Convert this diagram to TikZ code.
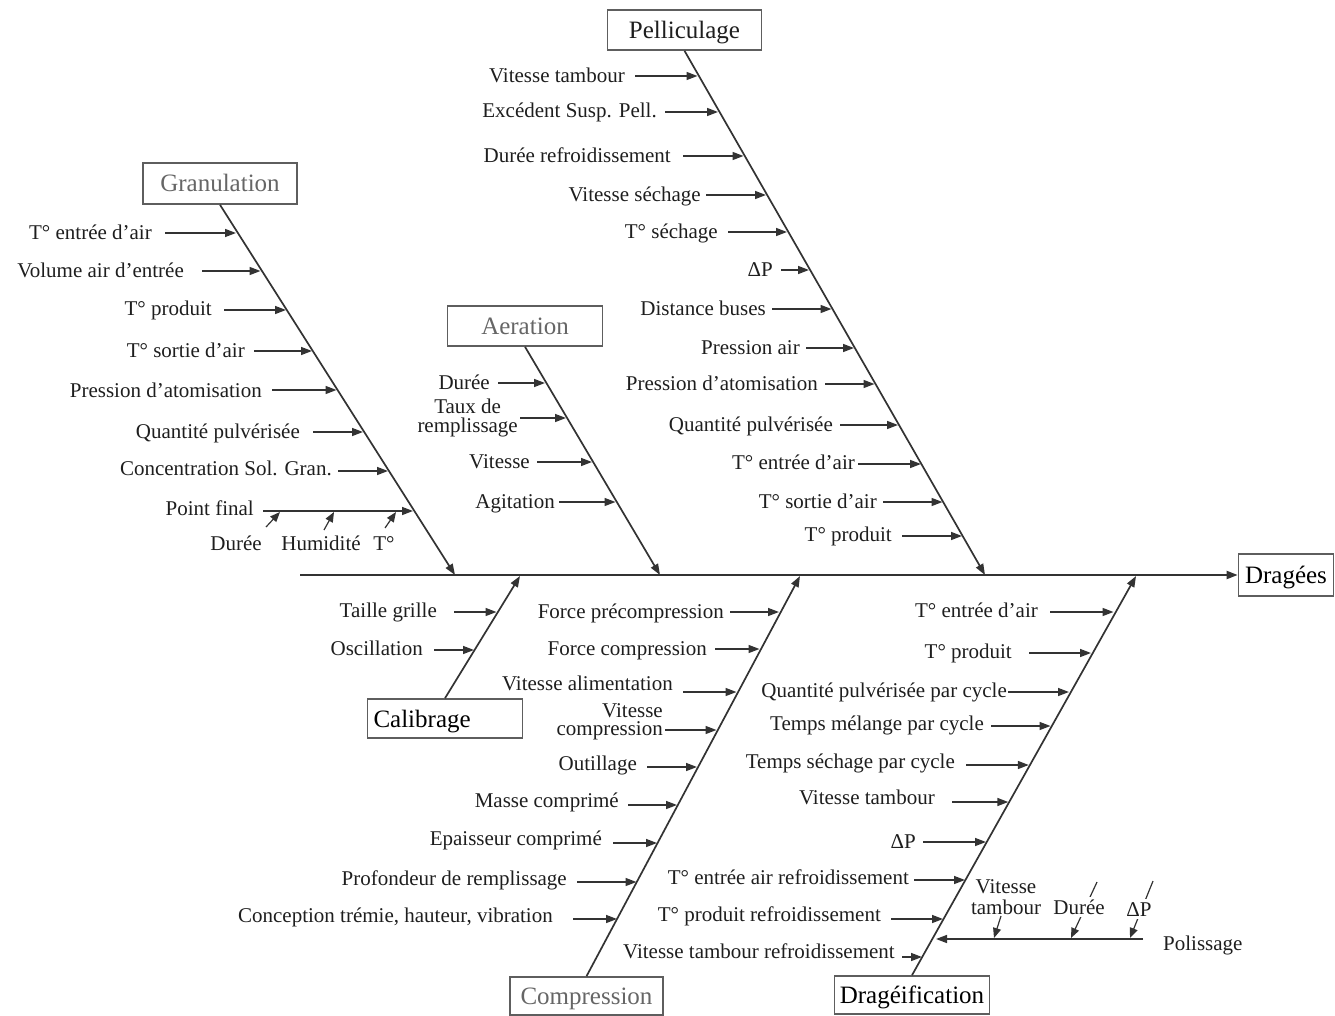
\documentclass[tikz,border=0pt]{standalone}
\usepackage{fontspec}
\setmainfont{Liberation Serif}
\usetikzlibrary{arrows.meta}

\definecolor{ink}{HTML}{1E1E1E}
\definecolor{rule}{HTML}{333333}
\definecolor{frame}{HTML}{5E5E5E}
\definecolor{softtext}{HTML}{666666}

% one cause: name, label right x, label y, arrow y, arrow start x, arrow tip x, text
\newcommand\cause[7]{%
  \node[lbl, anchor=east] (#1) at (#2,#3) {#7};
  \coordinate (#1-t) at (#6,#4);
  \draw[arr, shorten <={(#5-#2)*1pt}] (#1.east |- #1-t) -- (#1-t);
}

\begin{document}
\begin{tikzpicture}[x=1pt, y=-1pt,
  lbl/.style={font=\fontsize{21}{18}\selectfont, text=ink, inner sep=0pt,
              text height=17pt, text depth=1.5pt},
  mlbl/.style={font=\fontsize{21}{18.5}\selectfont, text=ink, inner sep=0pt},
  tip/.style={-{Triangle[length=11pt,width=8pt]}},
  arr/.style={tip, line width=1.5pt, draw=rule},
  subarr/.style={-{Triangle[length=10pt,width=8pt]}, line width=1.2pt, draw=rule},
  bone/.style={tip, line width=1.7pt, draw=rule},
  spine/.style={tip, line width=2pt, draw=rule},
  box/.style={draw=frame, line width=1.6pt, font=\fontsize{25}{28}\selectfont,
              inner sep=0pt, fill=white, text height=20pt, text depth=3pt},
  cover/.style={fill=white, inner sep=1pt}]

\useasboundingbox (0,0) rectangle (1335,1016);

% ---------- boxes ----------
\node[box, text=black, minimum width=95pt, minimum height=42pt] (drag) at (1286,575) {Dragées};
\node[box, text=softtext, minimum width=154pt, minimum height=41pt] (gran) at (220,183.5) {Granulation};
\node[box, text=softtext, minimum width=155pt, minimum height=40pt] (aer) at (525,326) {Aeration};
\node[box, text=ink, minimum width=154pt, minimum height=40pt] (pell) at (684.5,30) {Pelliculage};
\node[box, text=black, minimum width=155pt, minimum height=39pt, text width=143pt, align=left] (calib) at (445,718.5) {Calibrage};
\node[box, text=softtext, minimum width=153pt, minimum height=38pt] (comp) at (586.5,996) {Compression};
\node[box, text=black, minimum width=155pt, minimum height=38pt] (drg) at (912,995) {Dragéification};

% ---------- spine and bones ----------
\coordinate (tail) at (300,575);
\draw[spine] (tail) -- (drag.west);

\coordinate (hG) at (455,575);
\coordinate (hA) at (660,575);
\coordinate (hP) at (985,575);
\coordinate (hC) at (520,576);
\coordinate (hK) at (800,576);
\coordinate (hD) at (1136,576);

\draw[bone] (gran.south) -- (hG);
\draw[bone] (aer.south) -- (hA);
\draw[bone] (pell.south) -- (hP);
\draw[bone] (calib.north) -- (hC);
\draw[bone] (comp.north) -- (hK);
\draw[bone] (drg.north) -- (hD);

% ---------- Granulation ----------
\cause{g1}{152}{232}{233}{165}{236}{T° entrée d'air}
\cause{g2}{184}{270}{271}{202}{260.5}{Volume air d'entrée}
\cause{g3}{212}{308}{310}{224}{286}{T° produit}
\cause{g4}{245}{350}{351}{254}{312}{T° sortie d'air}
\cause{g5}{262}{390}{390}{272}{336.5}{Pression d'atomisation}
\cause{g6}{300}{431}{432}{313}{363}{Quantité pulvérisée}
\cause{g7}{332}{468}{471}{338}{388}{Concentration Sol. Gran.}
\cause{g8}{254}{508}{511}{263}{413}{Point final}

\coordinate (g8a-s) at (266,527); \coordinate (g8a-t) at (280,512);
\coordinate (g8b-s) at (324,530); \coordinate (g8b-t) at (334,512);
\coordinate (g8c-s) at (385,528); \coordinate (g8c-t) at (396,512);
\draw[subarr] (g8a-s) -- (g8a-t);
\draw[subarr] (g8b-s) -- (g8b-t);
\draw[subarr] (g8c-s) -- (g8c-t);
\node[lbl] (g8a) at (236,543) {Durée};
\node[lbl] (g8b) at (321,543) {Humidité};
\node[lbl] (g8c) at (384,543) {T°};

% ---------- Aeration ----------
\cause{a1}{490}{382}{383}{498}{545}{Durée}
\node[mlbl, anchor=east, align=center] (a2) at (518,418) {Taux de\\remplissage};
\coordinate (a2-t) at (566,418);
\draw[arr, shorten <=2pt] (a2.east |- a2-t) -- (a2-t);
\cause{a3}{530}{461}{462}{537}{592}{Vitesse}
\cause{a4}{555}{501}{502}{559}{615.5}{Agitation}

% ---------- Pelliculage ----------
\cause{p1}{625}{75}{76}{635}{697.5}{Vitesse tambour}
\cause{p2}{657}{110}{112}{665}{718}{Excédent Susp. Pell.}
\cause{p3}{671}{155}{156}{683}{743.5}{Durée refroidissement}
\cause{p4}{701}{194}{195}{706}{766}{Vitesse séchage}
\cause{p5}{718}{231}{232}{728}{787}{T° séchage}
\cause{p6}{773}{269}{270}{781}{809}{ΔP}
\cause{p7}{766}{308}{309}{772}{831.5}{Distance buses}
\cause{p8}{800}{347}{348}{806}{854}{Pression air}
\cause{p9}{818}{383}{384}{825}{874.5}{Pression d'atomisation}
\cause{p10}{833}{424}{425}{840}{898}{Quantité pulvérisée}
\cause{p11}{855}{462}{464}{858}{921}{T° entrée d'air}
\cause{p12}{877}{501}{502}{883}{942.5}{T° sortie d'air}
\cause{p13}{892}{534}{536}{902}{962}{T° produit}

% ---------- Calibrage ----------
\cause{c1}{437}{610}{612}{454}{496.5}{Taille grille}
\cause{c2}{423}{648}{650}{434}{474}{Oscillation}

% ---------- Compression ----------
\cause{k1}{724}{611}{612}{730}{779}{Force précompression}
\cause{k2}{707}{648}{649}{715}{759.5}{Force compression}
\cause{k3}{673}{683}{692}{683}{736.5}{Vitesse alimentation}
\node[mlbl, anchor=east, align=right] (k4) at (663,722) {Vitesse\\compression};
\coordinate (k4-t) at (716.5,730);
\draw[arr, shorten <=2pt] (k4.east |- k4-t) -- (k4-t);
\cause{k5}{637}{763}{767}{647}{697}{Outillage}
\cause{k6}{619}{800}{805}{628}{677}{Masse comprimé}
\cause{k7}{602}{838}{843}{613}{657}{Epaisseur comprimé}
\cause{k8}{567}{878}{882}{577}{636.5}{Profondeur de remplissage}
\cause{k9}{553}{915}{919}{573}{617}{Conception trémie, hauteur, vibration}

% ---------- Dragéification ----------
\cause{d1}{1038}{610}{612}{1050}{1113.5}{T° entrée d'air}
\cause{d2}{1012}{651}{653}{1029}{1091}{T° produit}
\cause{d3}{1007}{690}{692}{1008}{1069}{Quantité pulvérisée par cycle}
\cause{d4}{984}{723}{726}{991}{1050.5}{Temps mélange par cycle}
\cause{d5}{955}{761}{765}{966}{1028.8}{Temps séchage par cycle}
\cause{d6}{935}{797}{802}{952}{1008.3}{Vitesse tambour}
\cause{d7}{916}{841}{842}{923}{986}{ΔP}
\cause{d8}{909}{877}{880}{914}{965}{T° entrée air refroidissement}
\cause{d9}{881}{914}{919}{891}{943}{T° produit refroidissement}
\cause{d10}{895}{951}{957}{902}{922}{Vitesse tambour refroidissement}

% Polissage sub-branch
\node[lbl, anchor=west] (pol) at (1163,943) {Polissage};
\coordinate (pol-t) at (936,939);
\draw[arr] (pol.west |- pol-t) ++(-20,0) -- (pol-t);

\coordinate (pv-s) at (1001,916); \coordinate (pv-t) at (994,938);
\coordinate (pd-s) at (1097,882); \coordinate (pd-t) at (1071,938);
\coordinate (pp-s) at (1153,881); \coordinate (pp-t) at (1130,938);
\draw[subarr] (pv-s) -- (pv-t);
\draw[subarr] (pd-s) -- (pd-t);
\draw[subarr] (pp-s) -- (pp-t);
\node[mlbl, align=center] (pv) at (1006,897) {Vitesse\\[2pt]tambour};
\node[lbl, cover] (pd) at (1079,907) {Durée};
\node[lbl, cover] (pp) at (1139,909) {ΔP};

\end{tikzpicture}
\end{document}
